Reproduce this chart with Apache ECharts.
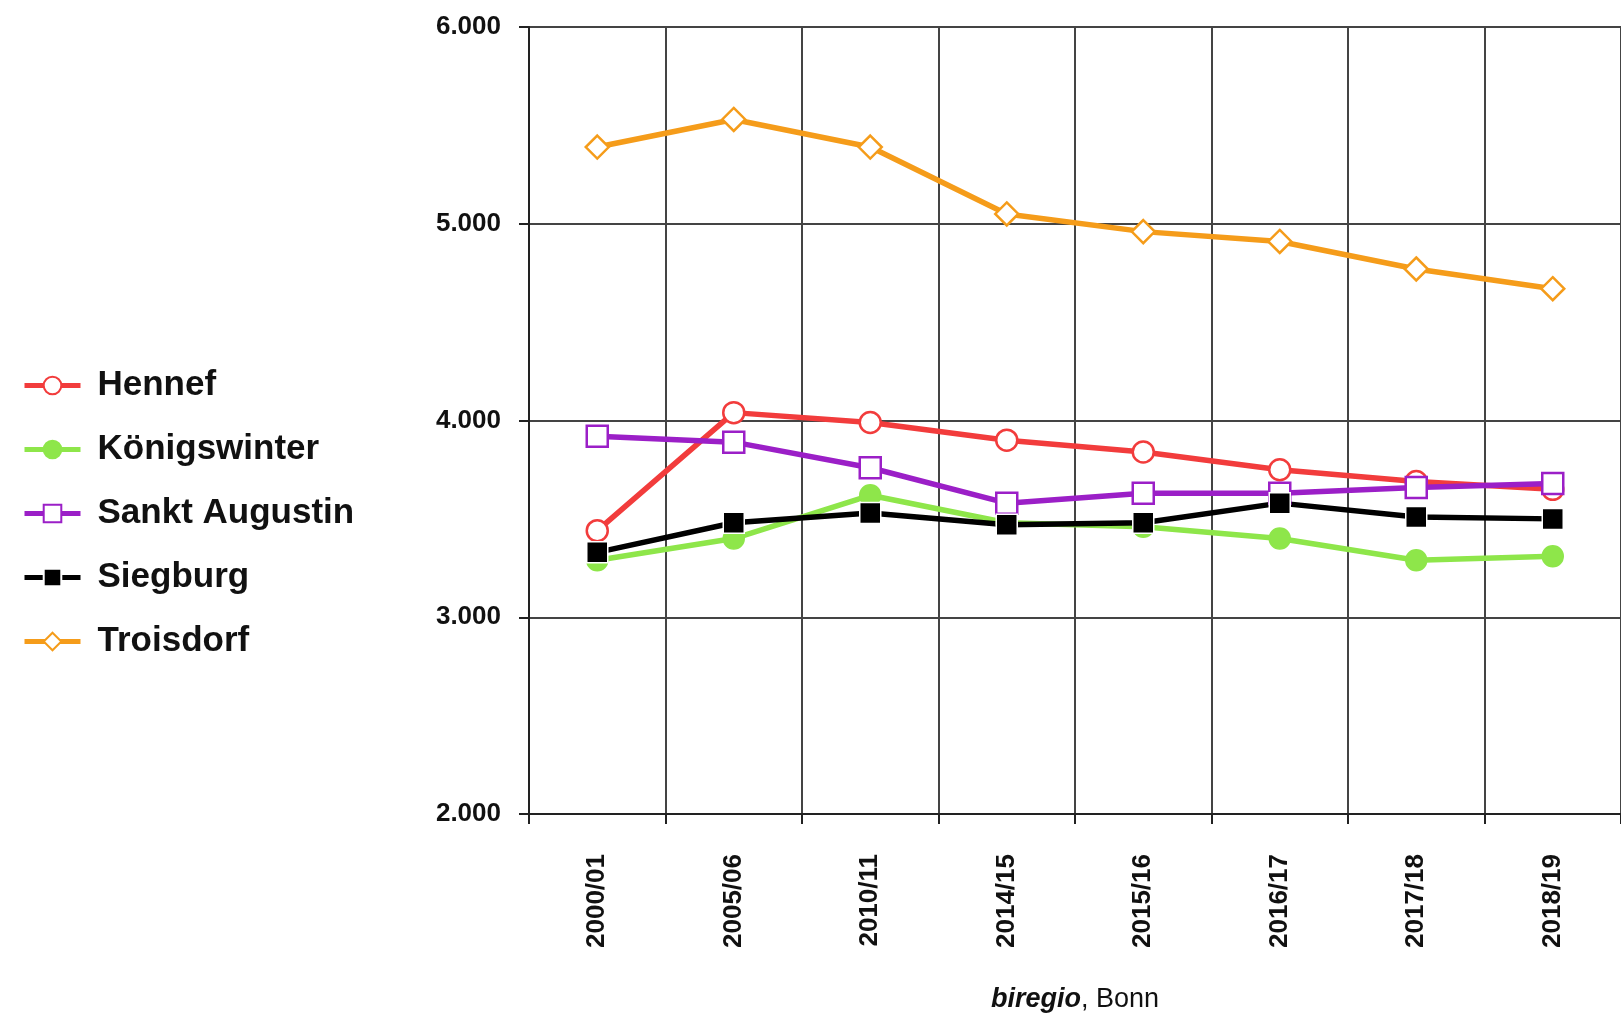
<!DOCTYPE html>
<html><head><meta charset="utf-8">
<script src="https://cdn.jsdelivr.net/npm/echarts@6/dist/echarts.min.js"></script>
<style>html,body{margin:0;padding:0;background:#fff}#c{width:1621px;height:1018px}</style>
</head><body><div id="c"></div>
<script>
const categories = ['2000/01','2005/06','2010/11','2014/15','2015/16','2016/17','2017/18','2018/19'];
const hennef = [3440,4040,3990,3900,3840,3750,3690,3650];
const koenigswinter = [3290,3400,3620,3480,3460,3400,3290,3310];
const sanktAugustin = [3920,3890,3760,3580,3630,3630,3660,3680];
const siegburg = [3330,3480,3530,3470,3480,3580,3510,3500];
const troisdorf = [5390,5530,5390,5050,4960,4910,4770,4670];
const yTicks = [2000,3000,4000,5000,6000];

function s(name, data, color, symbol, fill) {
  return {name, type:'line', data, symbol, symbolSize: symbol==='diamond'?23:21,
    lineStyle:{color, width:5.5}, itemStyle:{color: fill, borderColor: color==='#000'?'#fff':color, borderWidth: fill==='#fff'?2.5:1.5},
    color};
}
const chart = echarts.init(document.getElementById('c'));
chart.setOption({
  animation:false,
  grid:{left:529, top:27, right:-4, bottom:180},
  legend:{orient:'vertical', left:17, top:363, itemWidth:56, itemHeight:22, itemGap:29,
    lineStyle:{width:5},
    textStyle:{fontFamily:'Liberation Sans', fontWeight:'bold', fontSize:35, color:'#111', padding:[0,0,0,12]},
    data:['Hennef','Königswinter','Sankt Augustin','Siegburg','Troisdorf']},
  xAxis:{type:'category', data:categories, boundaryGap:true,
    axisLine:{lineStyle:{color:'#222', width:2}},
    axisTick:{show:true, length:10, lineStyle:{color:'#222', width:2}},
    splitLine:{show:true, lineStyle:{color:'#444', width:2}},
    axisLabel:{rotate:90, margin:40, fontFamily:'Liberation Sans', fontWeight:'bold', fontSize:26, color:'#111'},
    name:'{i|biregio}, Bonn', nameLocation:'middle', nameGap:172,
    nameTextStyle:{fontFamily:'Liberation Sans', fontSize:27, color:'#111', rich:{i:{fontStyle:'italic', fontWeight:'bold', fontSize:27, fontFamily:'Liberation Sans'}}}},
  yAxis:{type:'value', min:yTicks[0], max:yTicks[yTicks.length-1], interval:1000,
    axisLine:{show:true, lineStyle:{color:'#222', width:2}},
    axisTick:{show:true, length:10, lineStyle:{color:'#222', width:2}},
    splitLine:{lineStyle:{color:'#444', width:2}},
    axisLabel:{margin:28, fontFamily:'Liberation Sans', fontWeight:'bold', fontSize:26, color:'#111',
      formatter:v=>v.toLocaleString('de-DE')}},
  series:[
    s('Hennef', hennef, '#f23c3c', 'circle', '#fff'),
    s('Königswinter', koenigswinter, '#8ee64a', 'circle', '#8ee64a'),
    s('Sankt Augustin', sanktAugustin, '#9b1fc7', 'rect', '#fff'),
    s('Siegburg', siegburg, '#000', 'rect', '#000'),
    s('Troisdorf', troisdorf, '#f59c1a', 'diamond', '#fff')
  ]
});
</script></body></html>
